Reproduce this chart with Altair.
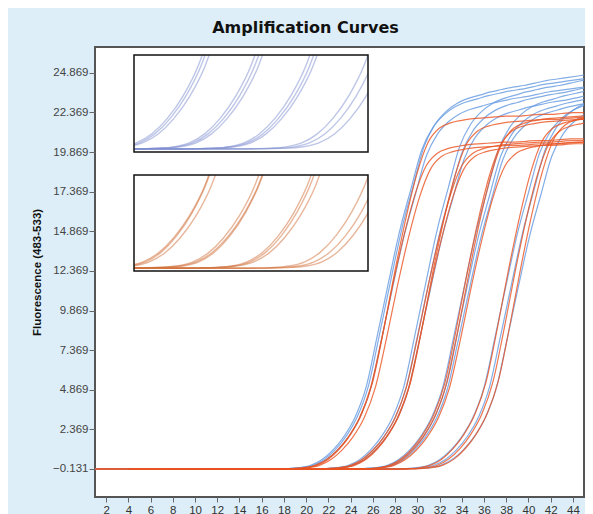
import altair as alt
import pandas as pd

# ---------------- data ----------------
x_ticks = [2, 4, 6, 8, 10, 12, 14, 16, 18, 20, 22, 24, 26, 28, 30, 32, 34, 36, 38, 40, 42, 44]
y_ticks = [-0.131, 2.369, 4.869, 7.369, 9.869, 12.369, 14.869, 17.369, 19.869, 22.369, 24.869]

# cycle relative to each curve's midpoint (Ct)
rel_cycle = list(range(-27, 19))
blue_profile = [-0.13, -0.13, -0.13, -0.13, -0.13, -0.13, -0.13, -0.13, -0.13, -0.13,
                -0.13, -0.13, -0.13, -0.13, -0.13, -0.13, -0.13, -0.12, -0.1, -0.05,
                0.1, 0.45, 1.05, 1.9, 3.1, 5.0, 8.2, 11.5, 14.7, 17.3, 19.8, 21.2, 22.0,
                22.5, 22.8, 23.0, 23.2, 23.35, 23.5, 23.6, 23.75, 23.9, 24.0, 24.1, 24.2, 24.3]
orange_profile = [-0.13, -0.13, -0.13, -0.13, -0.13, -0.13, -0.13, -0.13, -0.13, -0.13,
                  -0.13, -0.13, -0.13, -0.13, -0.13, -0.13, -0.13, -0.12, -0.1, -0.05,
                  0.1, 0.45, 1.05, 1.9, 3.1, 5.0, 8.1, 11.5, 14.6, 17.2, 19.0, 19.8, 20.1,
                  20.25, 20.35, 20.4, 20.45, 20.5, 20.5, 20.55, 20.6, 20.6, 20.65, 20.7, 20.7, 20.75]

blue_ct = [27.4, 27.6, 27.8, 30.8, 31.0, 31.2, 34.3, 34.5, 34.7, 38.0, 38.5, 39.1]
blue_scale = [1.01, 1.02, 0.99, 1.02, 1.0, 0.98, 1.01, 0.99, 0.98, 1.0, 1.01, 0.99]
orange_ct = [27.8, 28.0, 28.2, 31.0, 31.2, 31.4, 34.5, 34.7, 34.9, 38.2, 38.8, 39.3]
orange_scale = [1.0, 1.08, 0.99, 1.0, 0.99, 1.07, 1.07, 1.08, 1.0, 1.08, 1.07, 1.09]

dyes = ["blue", "orange"]
dye_colors = ["#6399e0", "#ea5220"]

inset_x_domain = [20.25, 35.25]
inset_y_domain = [-0.25, 3.5]

# ---------------- build table ----------------
records = []
for dye, cts, scales, prof in [("blue", blue_ct, blue_scale, blue_profile),
                               ("orange", orange_ct, orange_scale, orange_profile)]:
    for i, (ct, sc) in enumerate(zip(cts, scales)):
        for r, v in zip(rel_cycle, prof):
            records.append({"curve": f"{dye}{i}", "dye": dye, "x": ct + r, "y": v * sc})
df = pd.DataFrame(records)

frame_df = pd.DataFrame([{"x0": inset_x_domain[0], "x1": inset_x_domain[1],
                          "y0": inset_y_domain[0], "y1": inset_y_domain[1]}])

W, H = 489, 450

x_scale = alt.Scale(domain=[1, 45], nice=False, zero=False)
y_scale = alt.Scale(domain=[-1.9, 26.5], nice=False, zero=False)

x_axis = alt.Axis(values=x_ticks, title=None, grid=False, domain=False, tickColor="#666",
                  tickSize=5, labelFont="Liberation Sans", labelFontSize=11.5, labelColor="#333",
                  labelPadding=2, labelFlush=False)
y_axis = alt.Axis(values=y_ticks, format=".3f", title="Fluorescence (483-533)", grid=False,
                  domain=False, tickColor="#666", tickSize=6, labelFont="Liberation Sans",
                  labelFontSize=11.5, labelColor="#444", labelPadding=1,
                  titleFont="Liberation Sans", titleFontSize=11.5, titleFontWeight="bold",
                  titleColor="#111", titleX=-58, titleY=H / 2, titleAngle=-90,
                  titleAlign="center", titleBaseline="middle")

def main_lines(dye, color):
    return alt.Chart(df).transform_filter(alt.datum.dye == dye).mark_line(
        clip=True, interpolate="monotone", strokeWidth=1.2, opacity=0.8, color=color
    ).encode(
        x=alt.X("x:Q", scale=x_scale, axis=x_axis),
        y=alt.Y("y:Q", scale=y_scale, axis=y_axis),
        detail="curve:N",
    )

main = alt.layer(main_lines("blue", dye_colors[0]), main_lines("orange", dye_colors[1]))

def inset(dye, color, xrange, yrange):
    xs = alt.Scale(domain=inset_x_domain, range=xrange, nice=False, zero=False)
    ys = alt.Scale(domain=inset_y_domain, range=yrange, nice=False, zero=False)
    box = f"pathShape('M{xrange[0]},{yrange[1]}H{xrange[1]}V{yrange[0]}H{xrange[0]}Z')"
    bg = alt.Chart(frame_df).mark_rect(fill="white").encode(
        x=alt.X("x0:Q", scale=xs, axis=None), x2="x1:Q",
        y=alt.Y("y0:Q", scale=ys, axis=None), y2="y1:Q")
    lines = alt.Chart(df).transform_filter(alt.datum.dye == dye).mark_line(
        interpolate="monotone", strokeWidth=1.4, opacity=0.5, color=color,
        clip=alt.ExprRef(box)
    ).encode(
        x=alt.X("x:Q", scale=xs, axis=None),
        y=alt.Y("y:Q", scale=ys, axis=None),
        detail="curve:N")
    border = alt.Chart(frame_df).mark_rect(fill="white", fillOpacity=0, stroke="#111",
                                           strokeWidth=1.5).encode(
        x=alt.X("x0:Q", scale=xs, axis=None), x2="x1:Q",
        y=alt.Y("y0:Q", scale=ys, axis=None), y2="y1:Q")
    return alt.layer(bg, lines, border)

inset_top = inset("blue", "#7d8ed0", [39, 273], [105, 8])
inset_bot = inset("orange", "#d2703a", [39, 273], [224, 128])

chart = alt.layer(main, inset_top, inset_bot).resolve_scale(
    x="independent", y="independent"
).properties(
    width=W, height=H,
    title=alt.TitleParams("Amplification Curves", font="DejaVu Sans", fontSize=16,
                          fontWeight="bold", color="#111", anchor="middle", dx=-34, offset=11),
    autosize=alt.AutoSizeParams(type="none"),
    padding={"left": 87, "top": 39, "right": 1, "bottom": 17},
    background="#ddeef8",
).configure_view(fill="white", stroke="#555", strokeWidth=2)

chart.save("out.html", embed_options={"renderer": "svg", "actions": False})
